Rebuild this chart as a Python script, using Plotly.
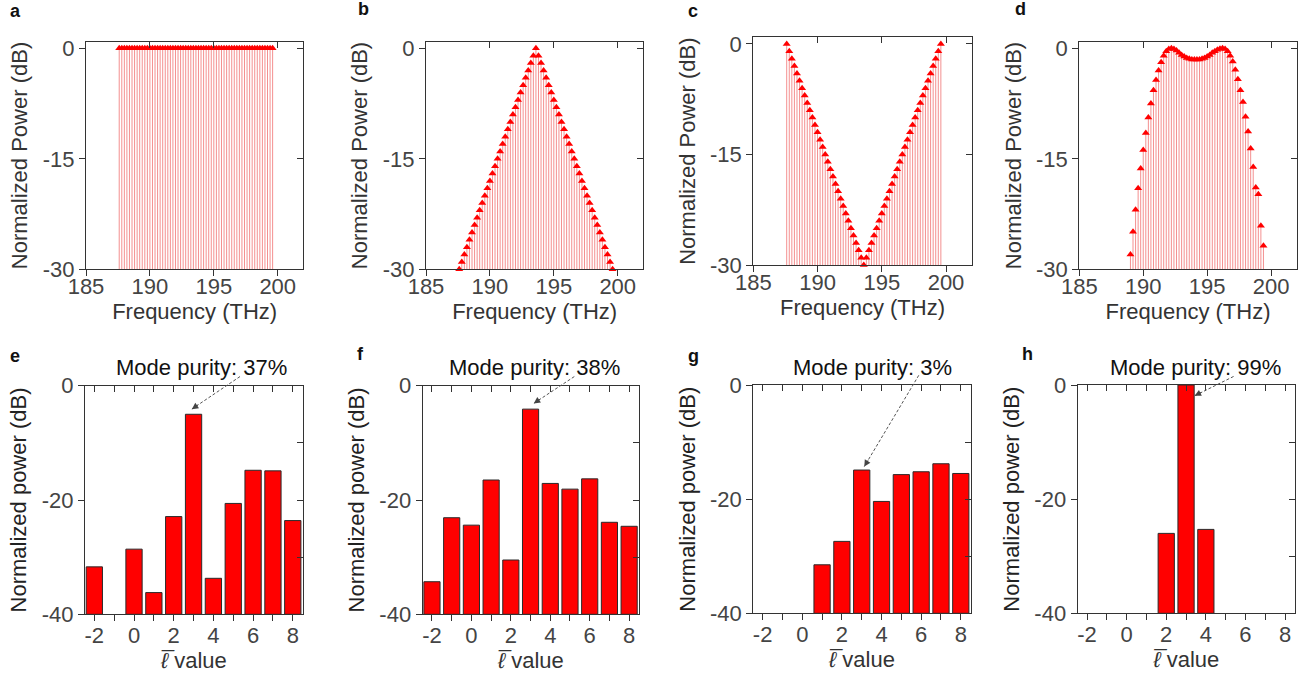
import plotly.graph_objects as go

W, H = 1313, 681

# ---------------- data ----------------
comb_freq = [187.6, 187.8, 188.0, 188.2, 188.4, 188.6, 188.8, 189.0, 189.2, 189.4,
             189.6, 189.8, 190.0, 190.2, 190.4, 190.6, 190.8, 191.0, 191.2, 191.4,
             191.6, 191.8, 192.0, 192.2, 192.4, 192.6, 192.8, 193.0, 193.2, 193.4,
             193.6, 193.8, 194.0, 194.2, 194.4, 194.6, 194.8, 195.0, 195.2, 195.4,
             195.6, 195.8, 196.0, 196.2, 196.4, 196.6, 196.8, 197.0, 197.2, 197.4,
             197.6, 197.8, 198.0, 198.2, 198.4, 198.6, 198.8, 199.0, 199.2, 199.4,
             199.6]
power_a = [0, 0, 0, 0, 0, 0, 0, 0, 0, 0, 0, 0, 0, 0, 0, 0, 0, 0, 0, 0,
           0, 0, 0, 0, 0, 0, 0, 0, 0, 0, 0, 0, 0, 0, 0, 0, 0, 0, 0, 0,
           0, 0, 0, 0, 0, 0, 0, 0, 0, 0, 0, 0, 0, 0, 0, 0, 0, 0, 0, 0, 0]
power_b = [-30, -29, -28, -27, -26, -25, -24, -23, -22, -21, -20, -19, -18, -17, -16,
           -15, -14, -13, -12, -11, -10, -9, -8, -7, -6, -5, -4, -3, -2, -1, 0,
           -1, -2, -3, -4, -5, -6, -7, -8, -9, -10, -11, -12, -13, -14, -15,
           -16, -17, -18, -19, -20, -21, -22, -23, -24, -25, -26, -27, -28, -29, -30]
power_c = [0, -1, -2, -3, -4, -5, -6, -7, -8, -9, -10, -11, -12, -13, -14, -15,
           -16, -17, -18, -19, -20, -21, -22, -23, -24, -25, -26, -27, -28, -29, -30,
           -29, -28, -27, -26, -25, -24, -23, -22, -21, -20, -19, -18, -17, -16,
           -15, -14, -13, -12, -11, -10, -9, -8, -7, -6, -5, -4, -3, -2, -1, 0]
freq_d = [189.0, 189.2, 189.4, 189.6, 189.8, 190.0, 190.2, 190.4, 190.6, 190.8,
          191.0, 191.2, 191.4, 191.6, 191.8, 192.0, 192.2, 192.4, 192.6, 192.8,
          193.0, 193.2, 193.4, 193.6, 193.8, 194.0, 194.2, 194.4, 194.6, 194.8,
          195.0, 195.2, 195.4, 195.6, 195.8, 196.0, 196.2, 196.4, 196.6, 196.8,
          197.0, 197.2, 197.4, 197.6, 197.8, 198.0, 198.2, 198.4, 198.6, 198.8,
          199.0, 199.2, 199.4]
power_d = [-28.0, -24.9, -21.9, -19.0, -16.3, -13.8, -11.5, -9.4, -7.5, -5.7,
           -4.3, -3.0, -1.9, -1.0, -0.4, -0.1, 0.0, -0.1, -0.3, -0.6,
           -0.9, -1.1, -1.3, -1.4, -1.5, -1.5, -1.5, -1.5, -1.4, -1.3,
           -1.1, -0.9, -0.6, -0.4, -0.2, -0.05, 0.0, -0.1, -0.4, -1.0,
           -1.8, -2.9, -4.2, -5.7, -7.3, -9.3, -11.3, -13.6, -16.1, -18.9,
           -19.8, -24.1, -26.8]

ell = [-2, -1, 0, 1, 2, 3, 4, 5, 6, 7, 8]
power_e = [-31.7, None, -28.6, -36.2, -22.9, -5.0, -33.7, -20.6, -14.8, -14.9, -23.6]
power_f = [-34.3, -23.1, -24.4, -16.5, -30.5, -4.1, -17.1, -18.1, -16.3, -23.9, -24.6]
power_g = [None, None, None, -31.5, -27.4, -14.9, -20.4, -15.7, -15.2, -13.8, -15.5]
power_h = [None, None, None, None, -26.0, 0.0, -25.3, None, None, None, None]

purity_labels = ["Mode purity: 37%", "Mode purity: 38%", "Mode purity: 3%", "Mode purity: 99%"]
panel_letters = ["a", "b", "c", "d", "e", "f", "g", "h"]

freq_ticks = [185, 190, 195, 200]
db_ticks_top = [0, -15, -30]
ell_ticks = [-2, -1, 0, 1, 2, 3, 4, 5, 6, 7, 8]
ell_ticktext = ["-2", "", "0", "", "2", "", "4", "", "6", "", "8"]
db_ticks_bot = [0, -20, -40]

# ---------------- layout geometry (pixels) ----------------
XPX = [(86, 303.3), (426, 643.3), (753.3, 971.7), (1079.3, 1296.7),
       (85, 302.7), (422.7, 639), (753.3, 970.7), (1077.7, 1295)]
YPX = [(41.7, 269.3), (41.7, 269.3), (37.3, 265.0), (41.7, 269.3),
       (385.7, 614.3), (385.7, 614.3), (385.0, 613.3), (385.0, 613.3)]
XR_TOP = [185, 202]
YR_TOP = [-30, 0.9]
XR_BOT = [-2.47, 8.5]
YR_BOT = [-40, 0]

AXC = "#333333"
TICKC = "#444444"
FONT = "Liberation Sans, Arial, sans-serif"
STEM = "rgba(236,70,70,0.6)"
RED = "#ff0000"


def xd(i):
    return [XPX[i][0] / W, XPX[i][1] / W]


def yd(i):
    return [1 - YPX[i][1] / H, 1 - YPX[i][0] / H]


def ref(letter, n):
    return letter if n == 1 else f"{letter}{n}"


def lname(letter, n):
    return f"{letter}axis" if n == 1 else f"{letter}axis{n}"


def to_paper(i, xv, yv, xr, yr):
    px = XPX[i][0] + (xv - xr[0]) / (xr[1] - xr[0]) * (XPX[i][1] - XPX[i][0])
    py = YPX[i][1] - (yv - yr[0]) / (yr[1] - yr[0]) * (YPX[i][1] - YPX[i][0])
    return px / W, 1 - py / H, px, py


fig = go.Figure()
layout = dict(width=W, height=H, margin=dict(l=0, r=0, t=0, b=0, autoexpand=False),
              paper_bgcolor="white", plot_bgcolor="white", showlegend=False,
              font=dict(family=FONT, color=TICKC))

top_sets = [(comb_freq, power_a), (comb_freq, power_b), (comb_freq, power_c), (freq_d, power_d)]
bot_sets = [power_e, power_f, power_g, power_h]

for i in range(8):
    n = i + 1
    on = i + 9
    top = i < 4
    xr = XR_TOP if top else XR_BOT
    yr = YR_TOP if top else YR_BOT
    xa, ya = ref("x", n), ref("y", n)

    if top:
        fx, pv = top_sets[i]
        sx, sy = [], []
        for f, v in zip(fx, pv):
            sx += [f, f, None]
            sy += [yr[0], v, None]
        fig.add_trace(go.Scatter(x=sx, y=sy, mode="lines", line=dict(color=STEM, width=1),
                                 xaxis=xa, yaxis=ya, hoverinfo="skip"))
        fig.add_trace(go.Scatter(x=fx, y=pv, mode="markers", cliponaxis=False,
                                 marker=dict(symbol="triangle-up", size=7, color=RED,
                                             line=dict(width=0)),
                                 xaxis=xa, yaxis=ya))
    else:
        vals = bot_sets[i - 4]
        fig.add_trace(go.Bar(x=ell, y=[None if v is None else v - yr[0] for v in vals],
                             base=yr[0], width=0.82,
                             marker=dict(color=RED, line=dict(color="#2a2a2a", width=1)),
                             xaxis=xa, yaxis=ya))
    # dummy trace for overlay (mirror) axes
    fig.add_trace(go.Scatter(x=[None], y=[None], xaxis=ref("x", on), yaxis=ref("y", on),
                             hoverinfo="skip"))

    common = dict(showgrid=False, zeroline=False, showline=True, linecolor=AXC,
                  linewidth=1.3, tickcolor=AXC, tickwidth=1.2, ticklen=6, automargin=False)
    if top:
        layout[lname("x", n)] = dict(domain=xd(i), range=xr, anchor=ya, ticks="outside",
                                     tickvals=freq_ticks, ticktext=[str(t) for t in freq_ticks],
                                     tickfont=dict(size=22, color=TICKC), ticklabelstandoff=-9,
                                     title=dict(text="Frequency (THz)", standoff=0,
                                                font=dict(size=22, color="#333")),
                                     **common)
        layout[lname("y", n)] = dict(domain=yd(i), range=yr, anchor=xa, ticks="outside",
                                     tickvals=db_ticks_top, ticktext=[str(t) for t in db_ticks_top],
                                     tickfont=dict(size=22, color=TICKC),
                                     title=dict(text="Normalized Power (dB)", standoff=8,
                                                font=dict(size=22, color="#333")),
                                     **common)
        otx, oty = freq_ticks, db_ticks_top[:2]
    else:
        layout[lname("x", n)] = dict(domain=xd(i), range=xr, anchor=ya, ticks="outside",
                                     tickvals=ell_ticks, ticktext=ell_ticktext,
                                     tickfont=dict(size=22, color=TICKC), ticklabelstandoff=-5,
                                     title=dict(text="<i>\u2113\u0305</i> value", standoff=4,
                                                font=dict(size=22, color="#333")),
                                     **common)
        layout[lname("y", n)] = dict(domain=yd(i), range=yr, anchor=xa, ticks="outside",
                                     tickvals=db_ticks_bot, ticktext=[str(t) for t in db_ticks_bot],
                                     tickfont=dict(size=22, color=TICKC),
                                     title=dict(text="Normalized power (dB)", standoff=8,
                                                font=dict(size=22, color="#222")),
                                     **common)
        otx, oty = ell_ticks, [0, -10, -20, -30]
    layout[lname("x", on)] = dict(overlaying=xa, side="top", anchor=ya, range=xr,
                                  ticks="inside", tickvals=otx, showticklabels=False,
                                  **common)
    layout[lname("y", on)] = dict(overlaying=ya, side="right", anchor=xa, range=yr,
                                  ticks="inside", tickvals=oty, showticklabels=False,
                                  **common)

annotations = []
shapes = []
# panel letters
letter_pos = [(15, 11), (363, 9), (693, 11), (1020, 9),
              (15, 356), (360, 354), (693, 356), (1027, 354)]
for L, (lx, ly) in zip(panel_letters, letter_pos):
    annotations.append(dict(text=f"<b>{L}</b>", x=lx / W, y=1 - ly / H, xref="paper", yref="paper",
                            showarrow=False, font=dict(size=18, color="#111"),
                            xanchor="center", yanchor="middle"))

# mode purity labels and dashed arrows
label_cx = [201.7, 534.5, 872.0, 1195.3]
label_cy = 367
arrows = [((5.34, 1.6), (2.91, -4.1)), ((5.22, 1.6), (3.16, -3.1)),
          ((5.88, 1.7), (3.13, -14.3)), ((5.4, 1.5), (3.43, -1.9))]
for k in range(4):
    i = k + 4
    annotations.append(dict(text=purity_labels[k], x=label_cx[k] / W, y=1 - label_cy / H,
                            xref="paper", yref="paper", showarrow=False,
                            font=dict(size=22, color="#111"), xanchor="center", yanchor="middle"))
    (tx, ty), (hx, hy) = arrows[k]
    tpx, tpy, tpxx, tpyy = to_paper(i, tx, ty, XR_BOT, YR_BOT)
    hpx, hpy, hpxx, hpyy = to_paper(i, hx, hy, XR_BOT, YR_BOT)
    shapes.append(dict(type="line", xref="paper", yref="paper", x0=tpx, y0=tpy, x1=hpx, y1=hpy,
                       line=dict(color="#555", width=1, dash="3px,2px")))
    dx, dy = tpxx - hpxx, tpyy - hpyy
    ln = (dx * dx + dy * dy) ** 0.5
    annotations.append(dict(text="", x=hpx, y=hpy, xref="paper", yref="paper",
                            showarrow=True, arrowhead=2, arrowsize=1.3, arrowwidth=1,
                            arrowcolor="#444", ax=dx / ln * 9, ay=dy / ln * 9, standoff=0))

layout["annotations"] = annotations
layout["shapes"] = shapes
fig.update_layout(**layout)
fig.write_html("out.html")
